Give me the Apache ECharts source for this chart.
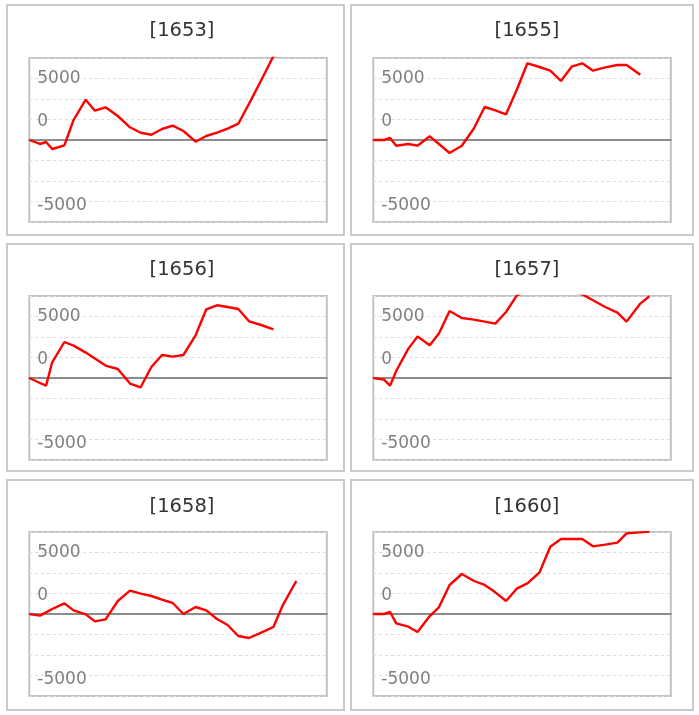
<!DOCTYPE html>
<html>
<head>
<meta charset="utf-8">
<script src="https://cdn.jsdelivr.net/npm/echarts@6/dist/echarts.min.js"></script>
<style>
html,body{margin:0;padding:0;background:#fff;}
#c{width:699px;height:715px;}
</style>
</head>
<body>
<div id="c"></div>
<script>
// Shared x positions (days from start)
const xDays = [0,7,11,15,23,29,37,43,50,58,66,73,80,87,94,101,109,116,123,130,137,144,152,160,166,175,181];
const titles = ['[1653]','[1655]','[1656]','[1657]','[1658]','[1660]'];
const s1653 = [0,-325,-163,-732,-431,1626,3276,2382,2659,1951,1033,593,431,894,1163,732,-138,325,593,919,1325,2940,4860,6820,7000];
const s1655 = [0,0,163,-463,-325,-463,301,-325,-1057,-463,951,2683,2400,2089,4065,6236,5935,5634,4797,5959,6236,5634,5910,6098,6098,5309];
const s1656 = [0,-406,-618,1276,2927,2634,2065,1577,1008,732,-455,-756,894,1870,1740,1870,3471,5585,5910,5772,5610,4610,4309,3959];
const s1657 = [0,-130,-618,569,2390,3366,2659,3610,5447,4878,4748,4585,4423,5366,6700,7200,7400,7300,7100,7000,6800,6317,5772,5317,4585,6049,6642];
const s1658 = [0,-136,136,407,867,298,-27,-596,-434,1057,1897,1653,1463,1165,894,0,569,298,-407,-894,-1789,-1951,-1518,-1057,678,2683];
const s1660 = [0,0,163,-759,-1030,-1463,-163,542,2358,3252,2683,2358,1762,1057,2060,2493,3388,5474,6098,6098,6098,5501,5637,5799,6558,6640,6700];
const seriesValues = [s1653, s1655, s1656, s1657, s1658, s1660];
const yLabels = {'5000':'5000','0':'{z|0}','-5000':'{n|-5000}'};
const yMin = -20000/3, yMax = 20000/3, yStep = 5000/3;
const xMax = 195;

const colLeft = [29.3, 373.3];
const rowTop = [58, 296, 532];
const gridW = 297.5, gridH = 164;
const titleX = [177, 522];
const titleY = [28, 266.5, 503.5];
const panelX = [7, 351], panelW = [337, 342];
const panelY = [5, 244, 480], panelH = [230, 227, 230];

const grids = [], xAxes = [], yAxes = [], series = [], titleOpts = [], graphics = [];
for (let i = 0; i < 6; i++) {
  const c = i % 2, r = Math.floor(i / 2);
  graphics.push({type:'rect', shape:{x:panelX[c], y:panelY[r], width:panelW[c], height:panelH[r]},
    style:{fill:'none', stroke:'#cacaca', lineWidth:2}, silent:true, z:-1});
  grids.push({left: colLeft[c], top: rowTop[r], width: gridW, height: gridH,
    show:true, borderColor:'#c2c2c2', borderWidth:2, backgroundColor:'transparent'});
  titleOpts.push({text: titles[i], left: titleX[c], top: titleY[r] - 12, textAlign:'center',
    textStyle:{fontFamily:'DejaVu Sans', fontSize:19.5, fontWeight:'normal', color:'#333'}});
  xAxes.push({type:'value', gridIndex:i, min:0, max:xMax,
    axisLine:{show:true, onZero:true, lineStyle:{color:'#8c8c8c', width:2}},
    axisTick:{show:false}, axisLabel:{show:false}, splitLine:{show:false}});
  yAxes.push({type:'value', gridIndex:i, min:yMin, max:yMax, interval:yStep,
    axisLine:{show:false}, axisTick:{show:false},
    splitLine:{show:true, lineStyle:{color:'#dcdcdc', type:[3,3], width:1}},
    axisLabel:{show:true, inside:true, margin:8, color:'#808080', fontFamily:'DejaVu Sans', fontSize:17,
      formatter: function(v){ const k = String(Math.round(v)); return yLabels[k] || ''; },
      rich:{
        z:{fontFamily:'DejaVu Sans', fontSize:17, color:'#808080', padding:[0,0,36,0]},
        n:{fontFamily:'DejaVu Sans', fontSize:17, color:'#808080', padding:[9,0,0,0]}
      }}});
  const vals = seriesValues[i];
  series.push({type:'line', xAxisIndex:i, yAxisIndex:i, symbol:'none', clip:true,
    lineStyle:{color:'#ff0000', width:2.4}, animation:false,
    data: vals.map((v, j) => [xDays[j], v])});
}

const chart = echarts.init(document.getElementById('c'), null, {renderer:'canvas'});
chart.setOption({
  animation:false,
  backgroundColor:'#ffffff',
  title: titleOpts,
  grid: grids,
  xAxis: xAxes,
  yAxis: yAxes,
  series: series,
  graphic: graphics
});
</script>
</body>
</html>
